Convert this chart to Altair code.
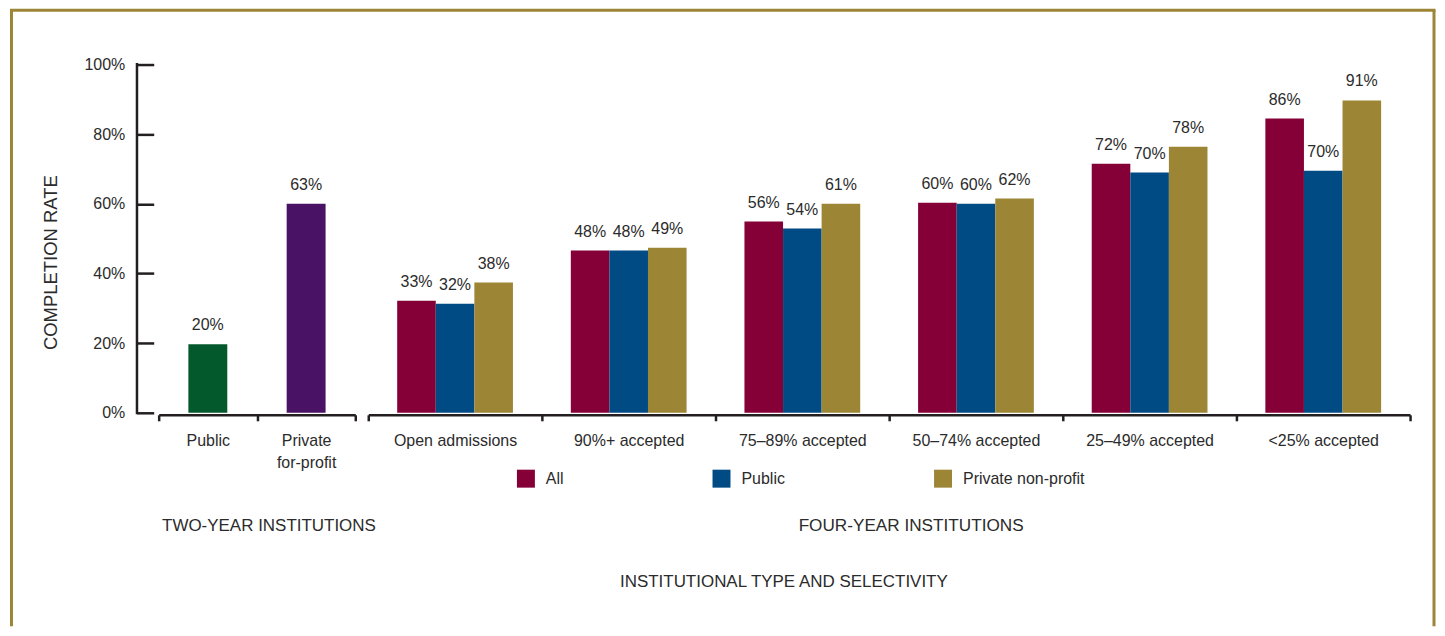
import altair as alt
import pandas as pd

# ---------------- data ----------------
two_year_categories = ["Public", "Private for-profit"]
two_year_values = [19.7, 60.0]
two_year_labels = ["20%", "63%"]
two_year_colors = ["#03592b", "#4a1264"]

four_year_categories = ["Open admissions", "90%+ accepted", "75–89% accepted",
                        "50–74% accepted", "25–49% accepted", "<25% accepted"]
series_names = ["All", "Public", "Private non-profit"]
series_colors = ["#860038", "#004b84", "#9d8536"]

all_values = [32.2, 46.6, 54.9, 60.3, 71.5, 84.5]
public_values = [31.3, 46.6, 52.9, 60.0, 69.0, 69.5]
private_values = [37.4, 47.4, 60.0, 61.5, 76.4, 89.7]
all_labels = ["33%", "48%", "56%", "60%", "72%", "86%"]
public_labels = ["32%", "48%", "54%", "60%", "70%", "70%"]
private_labels = ["38%", "49%", "61%", "62%", "78%", "91%"]

y_ticks = [0, 20, 40, 60, 80, 100]

df2 = pd.DataFrame({"category": two_year_categories,
                    "value": two_year_values,
                    "label": two_year_labels})
rows = []
for s, vals, labs in zip(series_names,
                         [all_values, public_values, private_values],
                         [all_labels, public_labels, private_labels]):
    for c, v, l in zip(four_year_categories, vals, labs):
        rows.append({"group": c, "series": s, "value": v, "label": l})
df4 = pd.DataFrame(rows)
one = pd.DataFrame({"k": [0]})

# ---------------- style ----------------
W2, W4, H = 197, 1044, 349
TEXT = "#2b2b2b"
AXIS = "#231f20"
GOLD = "#9d8538"
FONT = "Liberation Sans"

yscale = alt.Scale(domain=[0, 100], nice=False, zero=True)

axis_common = dict(labelAngle=0, tickBand="extent", offset=2,
                   domainColor=AXIS, domainWidth=2.5, tickColor=AXIS,
                   tickWidth=2.5, tickSize=6, labelFont=FONT, labelFontSize=16,
                   labelColor=TEXT, labelPadding=12, labelLineHeight=22,
                   titleFont=FONT, titleFontSize=17, titleFontWeight="normal",
                   titleColor=TEXT, titleBaseline="alphabetic", titleAlign="center")

# ---------------- left panel ----------------
left_x = alt.X("category:N", sort=two_year_categories,
               scale=alt.Scale(paddingInner=0, paddingOuter=0),
               axis=alt.Axis(title="TWO-YEAR INSTITUTIONS", titleX=110, titleY=116,
                             labelExpr="split(datum.label, ' ')", **axis_common))
left_y = alt.Y("value:Q", scale=yscale,
               axis=alt.Axis(values=y_ticks, offset=5, tickSize=17, domain=False,
                             grid=False, labelExpr="datum.value + '%'",
                             labelFont=FONT, labelFontSize=16, labelColor=TEXT,
                             labelPadding=12, tickColor=AXIS, tickWidth=2.5,
                             title="COMPLETION RATE", titleFont=FONT,
                             titleFontSize=18.5, titleFontWeight="normal",
                             titleColor=TEXT, titleAngle=-90, titleX=-97,
                             titleY=198, titleBaseline="alphabetic",
                             titleAlign="center"))

left_bars = alt.Chart(df2).mark_bar(width=39).encode(
    x=left_x, y=left_y,
    color=alt.Color("category:N",
                    scale=alt.Scale(domain=two_year_categories, range=two_year_colors),
                    legend=None))
left_text = alt.Chart(df2).mark_text(dy=-19, font=FONT, fontSize=16, color=TEXT,
                                     baseline="middle").encode(
    x=alt.X("category:N", sort=two_year_categories),
    y=alt.Y("value:Q", scale=yscale),
    text="label:N")

y_domain = alt.Chart(one).mark_rule(color=AXIS, strokeWidth=2.5).encode(
    x=alt.value(-21.75), y=alt.value(-1.5), y2=alt.value(H + 1.5))

frame_left = alt.Chart(one).mark_rule(color=GOLD, strokeWidth=3).encode(
    x=alt.value(-147.5), y=alt.value(-54.5), y2=alt.value(563))
frame_top = alt.Chart(one).mark_rule(color=GOLD, strokeWidth=3).encode(
    x=alt.value(-149), x2=alt.value(1279.5), y=alt.value(-54.5))
frame_right = alt.Chart(one).mark_rule(color=GOLD, strokeWidth=3).encode(
    x=alt.value(1278), y=alt.value(-54.5), y2=alt.value(563))

left = alt.layer(left_bars, left_text, y_domain,
                 frame_left, frame_top, frame_right).properties(width=W2, height=H)

# ---------------- right panel ----------------
right_x = alt.X("group:N", sort=four_year_categories,
                scale=alt.Scale(paddingInner=0, paddingOuter=0),
                axis=alt.Axis(title="INSTITUTIONAL TYPE AND SELECTIVITY",
                              titleX=416, titleY=172, **axis_common))
right_xo = alt.XOffset("series:N", sort=series_names,
                       scale=alt.Scale(paddingOuter=0.75, paddingInner=0))
right_y = alt.Y("value:Q", scale=yscale,
                axis=alt.Axis(domain=False, ticks=False, labels=False, grid=False,
                              title="FOUR-YEAR INSTITUTIONS", titleAngle=0,
                              titleX=543.5, titleY=467, titleBaseline="alphabetic",
                              titleAlign="center", titleFont=FONT,
                              titleFontSize=17.2, titleFontWeight="normal",
                              titleColor=TEXT))

right_bars = alt.Chart(df4).mark_bar().encode(
    x=right_x, xOffset=right_xo, y=right_y,
    color=alt.Color("series:N",
                    scale=alt.Scale(domain=series_names, range=series_colors),
                    legend=alt.Legend(orient="none", legendX=149, legendY=406,
                                      direction="horizontal", title=None,
                                      symbolType="square", symbolSize=324,
                                      symbolStrokeWidth=0, labelFont=FONT,
                                      labelFontSize=16, labelColor=TEXT,
                                      labelOffset=11, columnPadding=149,
                                      padding=0)))
right_text = alt.Chart(df4).mark_text(dy=-19, font=FONT, fontSize=16, color=TEXT,
                                      baseline="middle").encode(
    x=alt.X("group:N", sort=four_year_categories),
    xOffset=alt.XOffset("series:N", sort=series_names),
    y=alt.Y("value:Q", scale=yscale),
    text="label:N")

right = alt.layer(right_bars, right_text).properties(width=W4, height=H)

chart = alt.hconcat(left, right, spacing=13, bounds="flush").resolve_scale(
    color="independent", x="independent", y="independent"
).resolve_axis(y="independent", x="independent").properties(
    padding=0, background="white").configure_view(stroke=None)

chart.save("out.html", embed_options={"renderer": "svg", "actions": False})
